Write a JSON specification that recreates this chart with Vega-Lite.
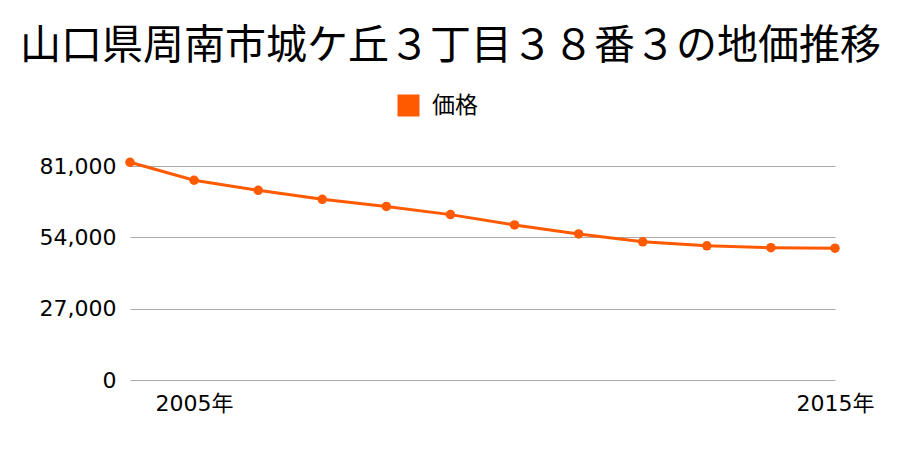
{
  "$schema": "https://vega.github.io/schema/vega-lite/v6.json",
  "autosize": "none",
  "width": 705,
  "height": 214,
  "padding": {"left": 130, "top": 166, "right": 65, "bottom": 70},
  "background": "white",
  "title": {
    "text": "山口県周南市城ケ丘３丁目３８番３の地価推移",
    "font": "Noto Sans CJK JP",
    "fontSize": 41,
    "fontWeight": "normal",
    "color": "#000000",
    "anchor": "middle",
    "frame": "group",
    "dx": -32,
    "offset": 26
  },
  "config": {
    "view": {"stroke": null},
    "font": "Noto Sans CJK JP"
  },
  "data": {
    "values": [
      {"year": 2004, "price": 82400, "series": "価格"},
      {"year": 2005, "price": 75600, "series": "価格"},
      {"year": 2006, "price": 71800, "series": "価格"},
      {"year": 2007, "price": 68400, "series": "価格"},
      {"year": 2008, "price": 65700, "series": "価格"},
      {"year": 2009, "price": 62600, "series": "価格"},
      {"year": 2010, "price": 58700, "series": "価格"},
      {"year": 2011, "price": 55300, "series": "価格"},
      {"year": 2012, "price": 52300, "series": "価格"},
      {"year": 2013, "price": 50800, "series": "価格"},
      {"year": 2014, "price": 50100, "series": "価格"},
      {"year": 2015, "price": 49900, "series": "価格"}
    ]
  },
  "encoding": {
    "x": {
      "field": "year",
      "type": "quantitative",
      "scale": {"domain": [2004, 2015], "nice": false, "zero": false},
      "axis": {
        "title": null,
        "values": [2005, 2015],
        "labelExpr": "datum.value + '年'",
        "labelFlush": false,
        "labelOverlap": false,
        "grid": false,
        "ticks": false,
        "domain": false,
        "labelFontSize": 22,
        "labelColor": "#000000",
        "labelPadding": 13,
        "labelFont": "DejaVu Sans, Noto Sans CJK JP"
      }
    },
    "y": {
      "field": "price",
      "type": "quantitative",
      "scale": {"domain": [0, 81000], "nice": false},
      "axis": {
        "title": null,
        "values": [0, 27000, 54000, 81000],
        "format": ",d",
        "grid": true,
        "gridColor": "#aaaaaa",
        "gridWidth": 1,
        "ticks": false,
        "domain": false,
        "labelFontSize": 22,
        "labelColor": "#000000",
        "labelPadding": 14,
        "labelFont": "DejaVu Sans, Noto Sans CJK JP"
      }
    },
    "color": {
      "field": "series",
      "type": "nominal",
      "scale": {"range": ["#ff5a00"]},
      "legend": {
        "title": null,
        "orient": "none",
        "legendX": 267,
        "legendY": -72,
        "symbolType": "square",
        "symbolSize": 484,
        "symbolStrokeWidth": 0,
        "labelFontSize": 23,
        "labelColor": "#000000",
        "labelOffset": 12,
        "labelFont": "Noto Sans CJK JP"
      }
    }
  },
  "layer": [
    {"mark": {"type": "line", "strokeWidth": 3}},
    {"mark": {"type": "point", "filled": true, "size": 90, "opacity": 1}}
  ]
}
